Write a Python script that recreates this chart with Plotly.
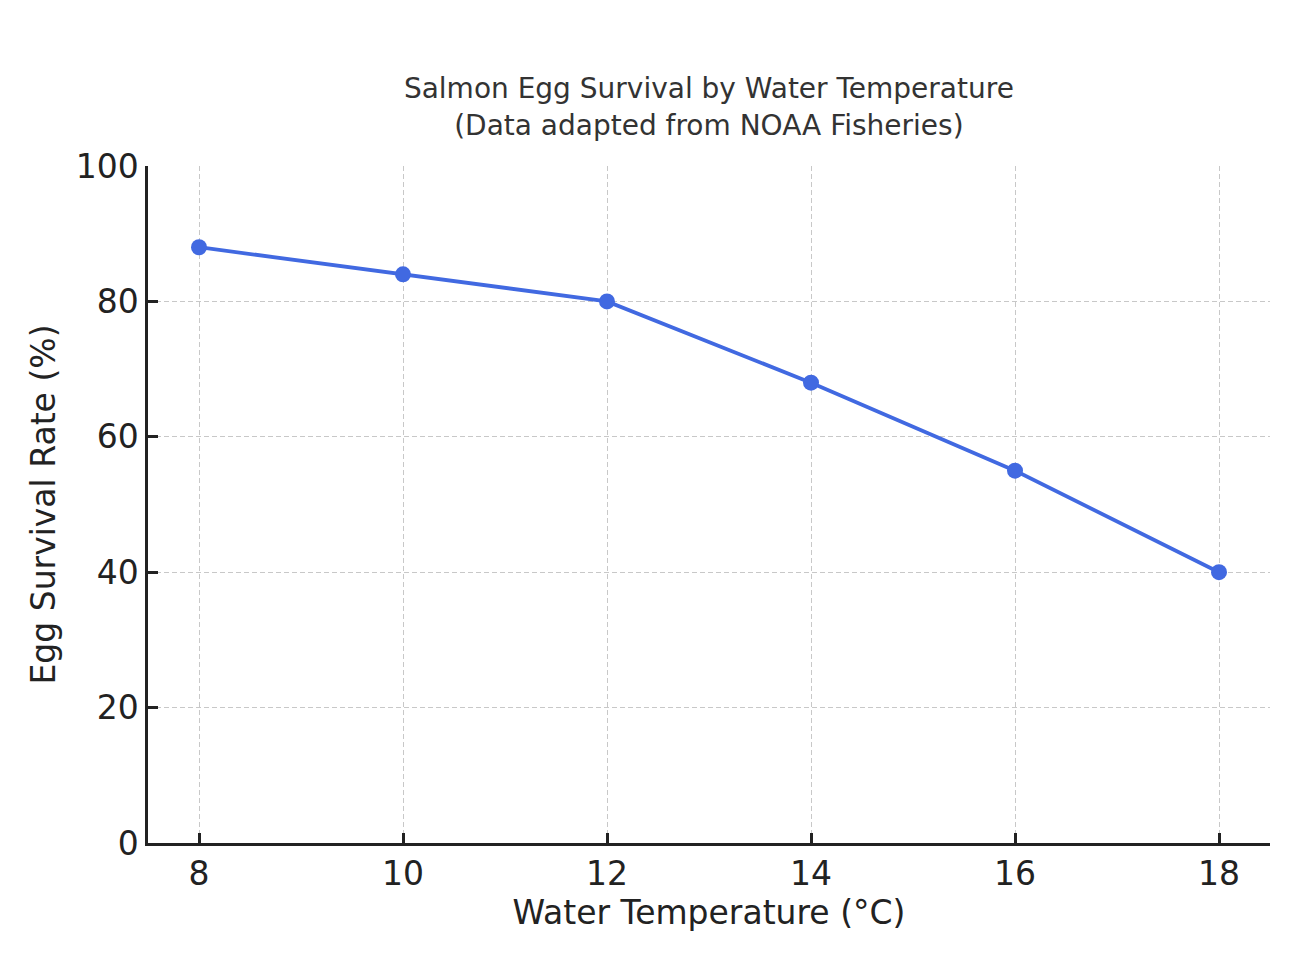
import plotly.graph_objects as go

temperature = [8, 10, 12, 14, 16, 18]
survival = [88, 84, 80, 68, 55, 40]
x_ticks = [8, 10, 12, 14, 16, 18]
y_ticks = [0, 20, 40, 60, 80, 100]

fig = go.Figure()
fig.add_trace(go.Scatter(
    x=temperature, y=survival, mode="lines+markers",
    line=dict(color="#4169E1", width=3.8),
    marker=dict(color="#4169E1", size=16),
    showlegend=False,
))

font = "DejaVu Sans"
grid = dict(showgrid=True, gridcolor="#c8c8c8", griddash="5px,3px", gridwidth=1.3)
fig.update_layout(
    width=1300, height=960,
    margin=dict(l=148, r=30, t=166, b=117),
    plot_bgcolor="white", paper_bgcolor="white",
    font=dict(family=font, color="#222222"),
    title=dict(
        text="Salmon Egg Survival by Water Temperature<br>(Data adapted from NOAA Fisheries)",
        x=0.5453, xanchor="center", y=0.8975, yanchor="middle",
        font=dict(family=font, size=28, color="#333333"),
    ),
)
fig.update_xaxes(
    range=[7.5, 18.5], tickvals=x_ticks, ticktext=[str(v) for v in x_ticks],
    showline=True, linecolor="#222222", linewidth=2.5,
    ticks="inside", ticklen=10, tickwidth=2.5, tickcolor="#222222",
    zeroline=False, tickfont=dict(size=33, color="#222222"),
    title=dict(text="Water Temperature (°C)", font=dict(size=33, color="#222222"), standoff=8),
    **grid,
)
fig.update_yaxes(
    range=[0, 100], tickvals=y_ticks, ticktext=[str(v) for v in y_ticks],
    showline=True, linecolor="#222222", linewidth=2.5,
    ticks="inside", ticklen=10, tickwidth=2.5, tickcolor="#222222",
    zeroline=False, tickfont=dict(size=33, color="#222222"),
    title=dict(text="Egg Survival Rate (%)", font=dict(size=33, color="#222222"), standoff=11),
    **grid,
)

fig.write_html("out.html")
